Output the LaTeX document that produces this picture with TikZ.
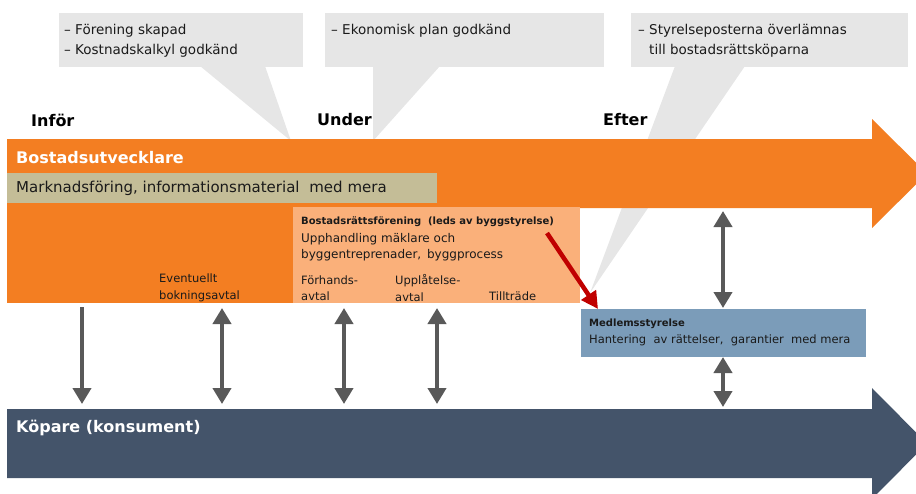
\documentclass[tikz,border=0pt]{standalone}
\usepackage{fontspec}
\setmainfont{DejaVu Sans}
\usetikzlibrary{arrows.meta}
\definecolor{orng}{HTML}{F37E22}
\definecolor{tan}{HTML}{C4BD97}
\definecolor{lorng}{HTML}{FAB07A}
\definecolor{bluebx}{HTML}{7B9CB9}
\definecolor{navy}{HTML}{44546A}
\definecolor{callg}{HTML}{E6E6E6}
\definecolor{darr}{HTML}{595959}
\definecolor{redarr}{HTML}{C00000}
\definecolor{txt}{HTML}{1A1A1A}
\tikzset{
  callbox/.style={fill=callg, draw=none, inner sep=0pt},
  calltxt/.style={anchor=west, text=txt, font=\fontsize{13.5}{20}\selectfont, align=left, inner sep=0pt},
  phase/.style={anchor=west, text=black, font=\bfseries\fontsize{16}{18}\selectfont, inner sep=0pt},
  bandtitle/.style={anchor=west, text=white, font=\bfseries\fontsize{16}{18}\selectfont, inner sep=0pt},
  smalltxt/.style={anchor=west, text=txt, font=\fontsize{11.5}{16.5}\selectfont, align=left, inner sep=0pt},
  smallbold/.style={anchor=west, text=txt, font=\bfseries\fontsize{10}{12}\selectfont, inner sep=0pt},
  vlink/.style={draw=darr, line width=4pt, {Triangle[width=18pt,length=16pt]}-{Triangle[width=18pt,length=16pt]}},
  vdown/.style={draw=darr, line width=4pt, -{Triangle[width=18pt,length=16pt]}},
  redlink/.style={draw=redarr, line width=4.5pt, -{Triangle[width=17pt,length=17pt]}}
}
\begin{document}
\begin{tikzpicture}[x=1pt,y=-1pt]
\useasboundingbox (0,0) rectangle (916,493);
% callouts
\fill[callg] (200,66) -- (265,66) -- (291,141) -- cycle;
\fill[callg] (373,66) -- (440,66) -- (373,141) -- cycle;
\fill[callg] (675,66) -- (745,66) -- (590,293) -- cycle;
\node[callbox, minimum width=244pt, minimum height=54pt, anchor=north west] (c1) at (59,13) {};
\node[callbox, minimum width=279pt, minimum height=54pt, anchor=north west] (c2) at (325,13) {};
\node[callbox, minimum width=277pt, minimum height=54pt, anchor=north west] (c3) at (631,13) {};
\node[calltxt] (t1) at (64,41) {– Förening skapad\\– Kostnadskalkyl godkänd};
\node[calltxt] (t2) at (331,31) {– Ekonomisk plan godkänd};
\node[calltxt] (t3) at (638,41) {– Styrelseposterna överlämnas\\\hphantom{– }till bostadsrättsköparna};
% phases
\node[phase] (p1) at (31,120) {Inför};
\node[phase] (p2) at (317,120) {Under};
\node[phase] (p3) at (603,120) {Efter};
% orange band
\fill[orng] (7,139) -- (872,139) -- (872,119) -- (927,173.5) -- (872,228) -- (872,208) -- (7,208) -- cycle;
\fill[orng] (7,207) rectangle (293,303);
\node[bandtitle] (bu) at (16,158) {Bostadsutvecklare};
\node[fill=tan, minimum width=430pt, minimum height=30pt, anchor=north west, inner sep=0pt] (mk) at (7,173) {};
\node[anchor=west, text=txt, font=\fontsize{15}{17}\selectfont, inner sep=0pt] (mkt) at (16,188) {Marknadsföring, informationsmaterial\,\, med mera};
\node[fill=lorng, minimum width=287pt, minimum height=96pt, anchor=north west, inner sep=0pt] (brf) at (293,207) {};
\node[smallbold] (brft) at (301,222) {Bostadsrättsförening\,\, (leds av byggstyrelse)};
\node[smalltxt, font=\fontsize{12}{16.5}\selectfont] (brfa) at (301,247) {Upphandling mäklare och\\byggentreprenader,\, byggprocess};
\node[smalltxt] (fa) at (301,288) {Förhands-\\avtal};
\node[smalltxt] (ua) at (395,288) {Upplåtelse-\\avtal};
\node[smalltxt] (tt) at (489,296) {Tillträde};
\node[smalltxt] (eb) at (159,288) {Eventuellt\\bokningsavtal};
% blue box
\node[fill=bluebx, minimum width=285pt, minimum height=48pt, anchor=north west, inner sep=0pt] (ms) at (581,309) {};
\node[smallbold] (mst) at (589,324) {Medlemsstyrelse};
\node[smalltxt] (msa) at (589,340) {Hantering\ \ av rättelser,\ \ garantier\ \ med mera};
% bottom band
\fill[navy] (7,409) -- (872,409) -- (872,388) -- (927,443.5) -- (872,499) -- (872,478) -- (7,478) -- cycle;
\node[bandtitle] (kp) at (16,428) {Köpare (konsument)};
% connectors
\coordinate (a1) at (82,307); \coordinate (b1) at (82,404);
\coordinate (a2) at (222,308); \coordinate (b2) at (222,404);
\coordinate (a3) at (344,308); \coordinate (b3) at (344,404);
\coordinate (a4) at (437,308); \coordinate (b4) at (437,404);
\coordinate (a5) at (723,211); \coordinate (b5) at (723,308);
\coordinate (a6) at (723,357); \coordinate (b6) at (723,407);
\coordinate (r1) at (547,233); \coordinate (r2) at (598,309);
\draw[vdown] (a1) -- (b1);
\draw[vlink] (a2) -- (b2);
\draw[vlink] (a3) -- (b3);
\draw[vlink] (a4) -- (b4);
\draw[vlink] (a5) -- (b5);
\draw[vlink] (a6) -- (b6);
\draw[redlink] (r1) -- (r2);
\end{tikzpicture}
\end{document}
